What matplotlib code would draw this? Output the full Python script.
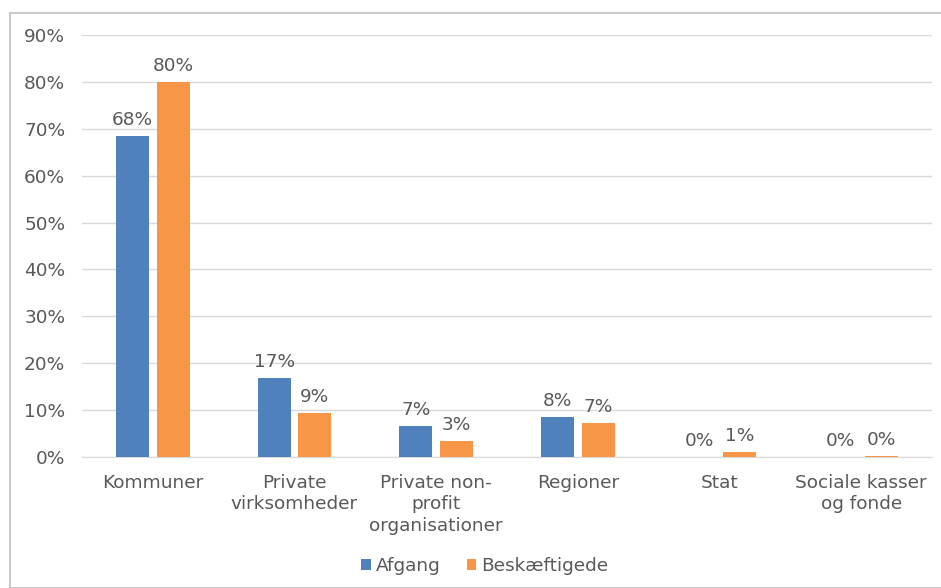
import numpy as np
import matplotlib
matplotlib.use("Agg")
import matplotlib.pyplot as plt
from matplotlib.patches import Rectangle

# %% data
categories = ["Kommuner", "Private\nvirksomheder", "Private non-\nprofit\norganisationer",
              "Regioner", "Stat", "Sociale kasser\nog fonde"]
afgang = [68.4, 16.8, 6.7, 8.5, 0.0, 0.0]
beskaeftigede = [80.0, 9.4, 3.45, 7.2, 1.0, 0.3]
yticks = [0, 10, 20, 30, 40, 50, 60, 70, 80, 90]

blue = "#4F81BD"
orange = "#F79646"
txt = "#595959"
fs = 13.3

plt.rcParams['font.family'] = ['DejaVu Sans']

fig = plt.figure(figsize=(9.41, 5.88), dpi=100)
fig.patches.append(Rectangle((10 / 941, 0), 1, 1 - 13 / 588, transform=fig.transFigure,
                             fill=False, edgecolor="#BFBFBF", linewidth=1.2))

ax = fig.add_axes([82 / 941, 131 / 588, 850 / 941, 422 / 588])

x = np.arange(len(categories))
w = 0.232
gap = 0.056
b1 = ax.bar(x - (w + gap) / 2, afgang, w, color=blue, label="Afgang", zorder=3)
b2 = ax.bar(x + (w + gap) / 2, beskaeftigede, w, color=orange, label="Beskæftigede", zorder=3)

for bars, vals in ((b1, afgang), (b2, beskaeftigede)):
    for r, v in zip(bars, vals):
        ax.text(r.get_x() + r.get_width() / 2, v + 1.5, f"{v:.0f}%", ha="center", va="bottom",
                fontsize=fs, color=txt)

ax.set_xlim(-0.5, len(categories) - 0.5)
ax.set_ylim(0, 90)
ax.set_yticks(yticks)
ax.set_yticklabels([f"{t}%" for t in yticks])
ax.set_xticks(x)
ax.set_xticklabels(categories, linespacing=1.25)
ax.tick_params(axis="both", length=0, labelsize=fs, labelcolor=txt)
ax.tick_params(axis="y", pad=12)
ax.tick_params(axis="x", pad=12)
ax.grid(axis="y", color="#D9D9D9", linewidth=1, zorder=0)
for s in ["top", "right", "left"]:
    ax.spines[s].set_visible(False)
ax.spines["bottom"].set_color("#D9D9D9")

fig.legend(handles=[b1, b2], loc="center", bbox_to_anchor=(485 / 941, 1 - 566 / 588), ncol=2,
           frameon=False, fontsize=fs, labelcolor=txt, handlelength=0.5, handleheight=0.5,
           handletextpad=0.3, columnspacing=1.4)

fig.savefig("out.png", dpi=100)
